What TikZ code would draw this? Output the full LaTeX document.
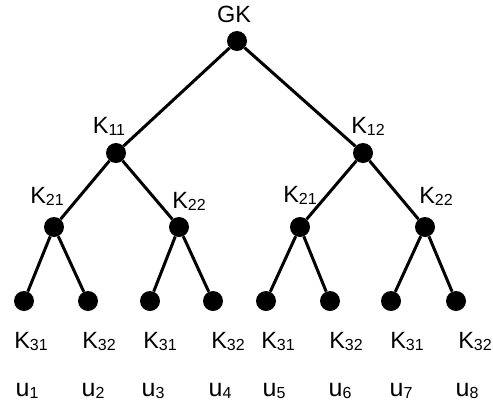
\documentclass[tikz,border=0pt]{standalone}
\usepackage{fontspec}
\setmainfont{Liberation Sans}
\newcommand{\lowidx}[1]{\raisebox{-2pt}{\fontsize{16}{16}\selectfont #1}}

\begin{document}
\begin{tikzpicture}[x=1pt,y=-1pt]
  \tikzstyle{dot}=[circle, fill=black, inner sep=0pt, minimum size=20pt]
  \tikzstyle{edge}=[line width=3pt]
  \tikzstyle{label}=[font=\fontsize{23.5}{26}\selectfont, inner sep=0pt, anchor=base]
  \tikzstyle{user}=[font=\fontsize{25}{27}\selectfont, inner sep=0pt, anchor=base]
  \useasboundingbox (0,0) rectangle (493,405);

  % key tree
  \node[dot] (gk) at (237,41) {};
  \node[dot] (k11) at (116,153) {};
  \node[dot] (k12) at (363,153) {};
  \node[dot] (k21a) at (54,227) {};
  \node[dot] (k22a) at (179,227) {};
  \node[dot] (k21b) at (300,227) {};
  \node[dot] (k22b) at (425,227) {};
  \foreach \i/\x in {1/24,2/88,3/150,4/213,5/266,6/330,7/391,8/456} {
    \node[dot] (u\i) at (\x,301) {};
  }

  \draw[edge] (gk) -- (k11);
  \draw[edge] (gk) -- (k12);
  \draw[edge] (k11) -- (k21a);
  \draw[edge] (k11) -- (k22a);
  \draw[edge] (k12) -- (k21b);
  \draw[edge] (k12) -- (k22b);
  \draw[edge] (k21a) -- (u1);
  \draw[edge] (k21a) -- (u2);
  \draw[edge] (k22a) -- (u3);
  \draw[edge] (k22a) -- (u4);
  \draw[edge] (k21b) -- (u5);
  \draw[edge] (k21b) -- (u6);
  \draw[edge] (k22b) -- (u7);
  \draw[edge] (k22b) -- (u8);

  % key labels
  \node[label] (lgk) at (234,22) {GK};
  \node[label] (lk11) at (109,133) {K\lowidx{11}};
  \node[label] (lk12) at (368,133) {K\lowidx{12}};
  \node[label] (lk21a) at (47,203) {K\lowidx{21}};
  \node[label] (lk22a) at (189,208) {K\lowidx{22}};
  \node[label] (lk21b) at (300,202) {K\lowidx{21}};
  \node[label] (lk22b) at (436,203) {K\lowidx{22}};

  % leaf keys and users
  \foreach \i/\kx/\kn/\ux in {1/31/31/27,2/99/32/93,3/160/31/153,4/228/32/220,
                             5/278/31/274,6/346/32/340,7/407/31/401,8/475/32/467} {
    \node[label] (lkey\i) at (\kx,348) {K\lowidx{\kn}};
    \node[user] (luser\i) at (\ux,396) {u\lowidx{\i}};
  }
\end{tikzpicture}
\end{document}
